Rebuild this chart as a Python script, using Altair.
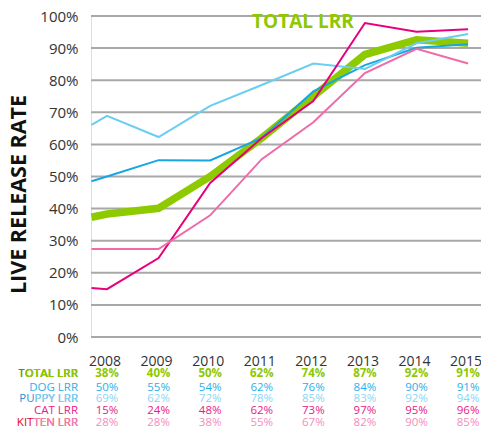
import altair as alt
import pandas as pd

# ---------------- data ----------------
years = [2008, 2009, 2010, 2011, 2012, 2013, 2014, 2015]
lead_in_x = 2007.7          # lines begin at the left edge with a pre-2008 value
series = ["TOTAL LRR", "DOG LRR", "PUPPY LRR", "CAT LRR", "KITTEN LRR"]

# line values (fraction), first value = left-edge lead-in, then 2008..2015
total_line = [0.373, 0.383, 0.401, 0.50, 0.62, 0.75, 0.88, 0.926, 0.915]
dog_line = [0.485, 0.50, 0.551, 0.55, 0.62, 0.765, 0.847, 0.901, 0.912]
puppy_line = [0.661, 0.689, 0.623, 0.72, 0.785, 0.852, 0.835, 0.915, 0.944]
cat_line = [0.153, 0.149, 0.246, 0.48, 0.62, 0.735, 0.978, 0.951, 0.959]
kitten_line = [0.274, 0.274, 0.274, 0.379, 0.554, 0.669, 0.822, 0.898, 0.852]

# table under the chart
total_tab = ["38%", "40%", "50%", "62%", "74%", "87%", "92%", "91%"]
dog_tab = ["50%", "55%", "54%", "62%", "76%", "84%", "90%", "91%"]
puppy_tab = ["69%", "62%", "72%", "78%", "85%", "83%", "92%", "94%"]
cat_tab = ["15%", "24%", "48%", "62%", "73%", "97%", "95%", "96%"]
kitten_tab = ["28%", "28%", "38%", "55%", "67%", "82%", "90%", "85%"]

y_ticks = [0, 0.1, 0.2, 0.3, 0.4, 0.5, 0.6, 0.7, 0.8, 0.9, 1.0]

# ---------------- styling ----------------
FONT = "Open Sans"
line_colors = {
    "TOTAL LRR": "#8DCB00",
    "DOG LRR": "#17A6E2",
    "PUPPY LRR": "#6CCDF3",
    "CAT LRR": "#E6007E",
    "KITTEN LRR": "#F06AA8",
}
tab_colors = {
    "TOTAL LRR": "#8DC800",
    "DOG LRR": "#2AB0EA",
    "PUPPY LRR": "#8CD6F4",
    "CAT LRR": "#E6198A",
    "KITTEN LRR": "#F38DBE",
}
# (prefix colour, prefix length) for row labels
prefix = {
    "TOTAL LRR": ("#5E8F00", 1),
    "PUPPY LRR": ("#2A8ED6", 2),
    "KITTEN LRR": ("#E60019", 3),
}
row_y = [358, 371.5, 383, 395, 406.5]

W, H = 390, 321
x_scale = alt.Scale(domain=[2007.69, 2015.25], nice=False, zero=False)
y_scale = alt.Scale(domain=[0, 1], nice=False)

xs = [lead_in_x] + years
line_vals = [total_line, dog_line, puppy_line, cat_line, kitten_line]
rows = []
for s, vals in zip(series, line_vals):
    for x, v in zip(xs, vals):
        rows.append({"x": x, "rate": v, "series": s})
df = pd.DataFrame(rows)

x_axis = alt.Axis(
    values=years, format="d", title=None, domain=False, ticks=False, grid=False,
    labelFontSize=14, labelColor="#333333", labelFont=FONT, labelPadding=17,
    labelOffset=-2.5, labelOverlap=False,
)
y_axis = alt.Axis(
    values=y_ticks, format=".0%", domain=False, ticks=False, grid=False,
    labelOverlap=False,
    labelFontSize=15, labelColor="#333333", labelFont=FONT, labelPadding=13,
    title="LIVE RELEASE RATE", titleFont=FONT, titleFontSize=21.5,
    titleFontWeight="bold", titleColor="#111111",
    titleAngle=270, titleAlign="center", titleBaseline="middle",
    titleX=-72, titleY=178,
)
x_enc = alt.X("x:Q", scale=x_scale, axis=x_axis)
y_enc = alt.Y("rate:Q", scale=y_scale, axis=y_axis)

# horizontal gridlines at every 10%
grid = (
    alt.Chart(pd.DataFrame({"rate": y_ticks}))
    .mark_rule(stroke="#a8a8a8", strokeWidth=2)
    .encode(y=y_enc, x=alt.value(0), x2=alt.value(W))
)

thick = (
    alt.Chart(df[df.series == "TOTAL LRR"])
    .mark_line(strokeWidth=7.5, color=line_colors["TOTAL LRR"])
    .encode(x=x_enc, y=y_enc)
)
thin = (
    alt.Chart(df[df.series != "TOTAL LRR"])
    .mark_line(strokeWidth=2)
    .encode(
        x=x_enc,
        y=y_enc,
        color=alt.Color(
            "series:N",
            scale=alt.Scale(domain=series[1:], range=[line_colors[s] for s in series[1:]]),
            legend=None,
        ),
        detail="series:N",
    )
)

annot = (
    alt.Chart(pd.DataFrame({"t": ["TOTAL LRR"]}))
    .mark_text(align="left", baseline="middle", font=FONT, fontSize=19,
               fontWeight="bold", color="#8DC800")
    .encode(text="t:N", x=alt.value(161), y=alt.value(6))
)

layers = [grid, thick, thin, annot]

tabs = [total_tab, dog_tab, puppy_tab, cat_tab, kitten_tab]
for i, (s, vals) in enumerate(zip(series, tabs)):
    tdf = pd.DataFrame({"x": years, "label": vals})
    layers.append(
        alt.Chart(tdf)
        .mark_text(align="center", baseline="middle", font=FONT, fontSize=11.5,
                   fontWeight="bold" if i == 0 else "normal", color=tab_colors[s])
        .encode(x="x:Q", text="label:N", y=alt.value(row_y[i]))
    )
    weight = 600 if i == 0 else "normal"
    if s in prefix:
        pc, n = prefix[s]
        # full label in the prefix colour, then the rest overprinted in the row colour
        layers.append(
            alt.Chart(pd.DataFrame({"t": [s]}))
            .mark_text(align="right", baseline="middle", font=FONT, fontSize=11.5,
                       fontWeight=weight, color=pc)
            .encode(text="t:N", x=alt.value(-13), y=alt.value(row_y[i]))
        )
        layers.append(
            alt.Chart(pd.DataFrame({"t": [s[n:]]}))
            .mark_text(align="right", baseline="middle", font=FONT, fontSize=11.5,
                       fontWeight=weight, color=tab_colors[s])
            .encode(text="t:N", x=alt.value(-13), y=alt.value(row_y[i]))
        )
    else:
        layers.append(
            alt.Chart(pd.DataFrame({"t": [s]}))
            .mark_text(align="right", baseline="middle", font=FONT, fontSize=11.5,
                       fontWeight=weight, color=tab_colors[s])
            .encode(text="t:N", x=alt.value(-13), y=alt.value(row_y[i]))
        )

chart = (
    alt.layer(*layers)
    .properties(
        width=W, height=H,
        autosize=alt.AutoSizeParams(type="none"),
        padding={"left": 83, "top": 8, "right": 0, "bottom": 92},
    )
    .configure_view(stroke=None)
    .configure(background="white")
)

chart.save("out.html", embed_options={"renderer": "svg", "actions": False})
